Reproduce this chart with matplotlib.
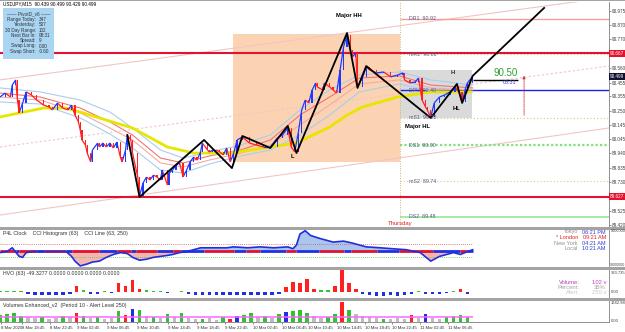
import matplotlib
matplotlib.use("Agg")
import matplotlib.pyplot as plt
import matplotlib.transforms as mtransforms
from matplotlib.collections import LineCollection
from matplotlib.patches import Rectangle

plt.rcParams["font.family"] = ["Liberation Sans", "DejaVu Sans"]
NARROW = ["Liberation Sans Narrow", "Liberation Sans", "DejaVu Sans"]

W, H = 625, 332
CHART_W = 609          # chart area in px, the price scale sits to the right of it
BARS_SHOWN = 349.2     # M15 bars that fit in the chart area

# ---------------- USDJPY M15, values ----------------
bar_idx = [0, 3, 6, 7, 9, 10, 11, 13, 15, 18,
           21, 25, 28, 30, 33, 36, 39, 41, 43, 45,
           46, 47, 49, 50, 52, 53, 56, 57, 59, 61,
           63, 65, 67, 69, 70, 72, 73, 75, 76, 79,
           80, 82, 84, 86, 88, 90, 92, 93, 96, 97,
           99, 101, 103, 105, 107, 109, 111, 113, 115, 116,
           119, 120, 122, 124, 126, 128, 130, 132, 134, 136,
           139, 143, 147, 151, 155, 159, 162, 165, 167, 169,
           171, 173, 175, 177, 179, 181, 182, 185, 186, 189,
           191, 193, 195, 197, 199, 201, 202, 204, 205, 208,
           210, 212, 216, 220, 224, 228, 231, 232, 235, 238,
           240, 242, 244, 245, 247, 249, 252, 255, 258, 261,
           263, 265, 267, 268, 271]
close = [90.350, 90.379, 90.350, 90.437, 90.474, 90.328, 90.234, 90.307, 90.387, 90.365,
         90.328, 90.292, 90.278, 90.256, 90.307, 90.270, 90.256, 90.292, 90.219, 90.169,
         90.110, 90.038, 90.001, 89.943, 89.878, 89.965, 90.016, 89.987, 90.016, 89.987,
         90.016, 89.980, 90.023, 89.914, 89.878, 89.965, 90.074, 90.038, 89.943, 89.769,
         89.631, 89.725, 89.769, 89.747, 89.783, 89.769, 89.747, 89.820, 89.711, 89.798,
         89.820, 89.856, 89.871, 89.769, 89.820, 89.878, 89.914, 89.892, 89.951, 90.016,
         89.965, 89.951, 89.965, 89.965, 89.951, 89.929, 89.980, 89.878, 89.943, 90.038,
         90.060, 90.016, 90.001, 89.987, 89.987, 90.052, 90.074, 90.125, 89.987, 89.951,
         90.089, 90.256, 90.328, 90.307, 90.401, 90.452, 90.423, 90.401, 90.452, 90.423,
         90.401, 90.379, 90.546, 90.714, 90.801, 90.692, 90.641, 90.670, 90.423, 90.496,
         90.568, 90.546, 90.525, 90.532, 90.496, 90.510, 90.525, 90.474, 90.452, 90.459,
         90.488, 90.328, 90.278, 90.256, 90.205, 90.307, 90.350, 90.365, 90.387, 90.423,
         90.387, 90.314, 90.416, 90.452, 90.499]

# moving average ribbon
ma_bar = [0, 23, 46, 63, 76, 92, 105, 120, 138, 155, 172, 189, 206, 229, 247, 271]
ma_blue_up = [90.416, 90.387, 90.328, 90.241, 90.125, 89.965, 89.907, 89.951,
              90.001, 90.074, 90.256, 90.401, 90.510, 90.532, 90.474, 90.437]
ma_red_up = [90.379, 90.350, 90.270, 90.169, 90.074, 89.907, 89.871, 89.922,
             89.965, 90.038, 90.219, 90.350, 90.488, 90.503, 90.437, 90.416]
ma_red_lo = [90.350, 90.328, 90.234, 90.125, 90.038, 89.871, 89.842, 89.892,
             89.943, 90.001, 90.147, 90.292, 90.445, 90.474, 90.416, 90.401]
ma_blue_lo = [90.314, 90.299, 90.198, 90.081, 89.980, 89.820, 89.798, 89.863,
              89.922, 89.965, 90.074, 90.219, 90.387, 90.445, 90.394, 90.387]

yellow_bar = [0, 25, 38, 46, 57, 76, 96, 111, 132, 151, 170, 189, 199, 208, 228, 247, 270]
yellow_ma = [90.205, 90.270, 90.270, 90.241, 90.198, 90.125, 89.987, 89.943, 89.943,
             89.980, 90.016, 90.132, 90.219, 90.278, 90.350, 90.387, 90.387]

# zigzag swing points (last one is the projection)
zz_bar = [73, 80, 117, 133, 139, 155, 165, 170, 199, 205, 210, 247, 262, 265, 271, 312]
zz_price = [90.074, 89.624, 90.038, 89.834, 90.067, 89.980, 90.140, 89.943, 90.815,
            90.416, 90.575, 90.198, 90.445, 90.307, 90.503, 90.997]

# faint channel lines (start/end price across the chart)
chan_bar = [0, BARS_SHOWN]
chan_top = [90.474, 91.074]
chan_mid = [89.987, 90.575]
chan_low = [89.493, 90.125]

sr_levels = [90.667, 89.627]
day_start = 229.4
last_bar = 271
piv_names = ["DR1", "mR1", "DPV", "mS1", "DS1", "mS2", "DS2"]
piv_price = [90.92, 90.66, 90.40, 90.20, 90.00, 89.74, 89.48]
box_week = [133.6, 229.4, 89.878, 90.808]    # bar0, bar1, low, high
box_range = [229.4, 270.6, 90.198, 90.546]
target_price = 90.474

price_ticks = [90.975, 90.870, 90.770, 90.560, 90.455, 90.355, 90.250,
               90.145, 90.045, 89.940, 89.835, 89.730, 89.525, 89.420]
price_flags = [("90.667", "#e3122e"), ("90.499", "#101030"), ("89.627", "#e3122e")]

# ---------------- sub windows ----------------
cci_bar = [0, 4, 7, 11, 13, 15, 19, 30, 38, 41, 43, 46, 50, 53, 57, 61, 65, 69, 73, 76,
           80, 84, 88, 92, 96, 99, 103, 107, 111, 115, 122, 130, 134, 142, 149, 157, 165,
           168, 170, 172, 175, 178, 183, 191, 197, 202, 210, 218, 225, 233, 241, 247, 252,
           260, 264, 268, 271]
cci_val = [-29, -14, 43, -86, -100, -29, -14, -14, -14, -86, -157, -229, -200, -171, -157,
           -100, -57, -29, -43, -100, -143, -129, -100, -86, -71, -57, -29, -14, 14, 43,
           43, 43, 57, 43, 57, 43, 57, 29, 86, 250, 300, 229, 186, 129, 143, 114, 57, 43,
           29, 14, -29, -157, -86, -29, -57, -14, 14]
cci_seg_edges = [0, 9, 11, 21, 25, 38, 41, 57, 67, 75, 78, 90, 99, 104, 117, 134, 141,
                 149, 164, 170, 183, 197, 201, 216, 229, 248, 264, 268, 271]
cci_seg_colors = "rb" * 14

sub_bar = list(range(0, 272, 4))
hvo_val = [20, 15, 25, 15, -30, -45, -50, -45, -50, -45, -40, 110, 30, -35, -30, 15, -20,
           150, 100, 200, 60, 30, 15, 20, -10, 10, 20, -30, -45, -50, -55, -55, -50, -45,
           -50, -55, -55, -50, -45, -45, -40, 80, 170, 150, 230, 60, 30, 40, 100, 370, 160,
           50, -30, -55, -60, -60, -55, -60, -50, -25, 20, -25, -25, -25, -20, 15, 50, -40]
vol_val = [427, 488, 549, 366, 305, 244, 305, 183, 244, 366,
           305, 549, 366, 244, 305, 183, 244, 671, 427, 793,
           732, 366, 305, 244, 488, 305, 549, 244, 183, 183,
           244, 122, 305, 183, 366, 427, 549, 305, 366, 244,
           488, 610, 671, 732, 549, 366, 244, 305, 488, 1220,
           732, 488, 366, 305, 244, 183, 183, 244, 183, 427,
           244, 488, 244, 183, 305, 366, 427, 305]
vol_kind = ("ggggkkgkkg" "krgkgkkgrb" "gkgkgkgkkg" "kkgrbggkgk"
            "gbgggkkggr" "gkkkkgkkkr" "kbkkgggg")
vol_alert = 330

time_ticks = [0.6, 12.9, 28.7, 44.2, 61.4, 78.6, 96.3, 113, 129, 145, 161.7, 176.6,
              193.2, 209.3, 224.8, 240.8, 256.9]
time_labels = ["8 Mar 2020", "8 Mar 18:45", "8 Mar 22:45", "9 Mar 02:45", "9 Mar 06:45",
               "9 Mar 10:45", "9 Mar 14:45", "9 Mar 18:45", "9 Mar 22:45", "10 Mar 02:45",
               "10 Mar 06:45", "10 Mar 10:45", "10 Mar 14:45", "10 Mar 18:45",
               "10 Mar 22:45", "11 Mar 02:45", "11 Mar 06:45"]

BLUE, RED, GREEN = "#2038ff", "#ff2020", "#2fc42f"
KIND_COL = {"g": GREEN, "r": RED, "b": "#2030e0", "k": "#bdbdbd"}

fig = plt.figure(figsize=(W / 100, H / 100), dpi=100)


def panel(top, bottom):
    a = fig.add_axes([0, 1 - bottom / H, CHART_W / W, (bottom - top) / H])
    a.set_xlim(0, BARS_SHOWN)
    a.set_xticks([])
    a.set_yticks([])
    for s in ("left", "top", "bottom"):
        a.spines[s].set_visible(False)
    a.spines["right"].set_color("#7f7f7f")
    a.spines["right"].set_linewidth(0.6)
    return a


def ftext(x, y, s, **kw):
    # text placed in screen pixels of the 625x332 picture
    kw.setdefault("fontsize", 3.8)
    kw.setdefault("va", "center")
    fig.text(x / W, 1 - y / H, s, **kw)


# ---------------- main chart ----------------
ax = panel(2, 227)
ax.set_ylim(89.406, 91.040)

ax.add_patch(Rectangle((box_week[0], box_week[2]), box_week[1] - box_week[0],
                       box_week[3] - box_week[2], fc="#fbd3b3", ec="none", zorder=0))
ax.add_patch(Rectangle((box_range[0], box_range[2]), box_range[1] - box_range[0],
                       box_range[3] - box_range[2], fc="#dadada", ec="none", zorder=0))

ax.plot(chan_bar, chan_top, color="#f2c4c4", lw=0.8, zorder=1)
ax.plot(chan_bar, chan_mid, color="#f2c4c4", lw=0.8, ls=(0, (2, 2)), zorder=1)
ax.plot(chan_bar, chan_low, color="#f2c4c4", lw=0.8, zorder=1)

piv_style = {
    "DR1": dict(color="#f2a097", lw=1.0),
    "mR1": dict(color="#d9c88a", lw=0.8, ls=(0, (1, 2))),
    "DPV": dict(color="#2020e8", lw=1.0),
    "mS1": dict(color="#d9c88a", lw=0.8, ls=(0, (1, 2))),
    "DS1": dict(color="#7fe07f", lw=1.6, ls=(0, (1, 1))),
    "mS2": dict(color="#d9c88a", lw=0.8, ls=(0, (1, 2))),
    "DS2": dict(color="#8ee48e", lw=1.1),
}
for name, p in zip(piv_names, piv_price):
    ax.hlines(p, day_start, BARS_SHOWN, zorder=2, **piv_style[name])
    ax.text(day_start + 5, p, f"{name}  {p:.2f}", fontsize=3.8, color="#5a5a86",
            va="center", zorder=6)

for lvl in sr_levels:
    ax.axhline(lvl, color="#e3122e", lw=1.5, zorder=3)
ax.axvline(day_start, color="#d6b46a", lw=0.7, ls=(0, (1, 1.5)), zorder=2)

ax.plot(ma_bar, ma_blue_up, color="#a9cdf0", lw=0.8, zorder=3)
ax.plot(ma_bar, ma_blue_lo, color="#a9cdf0", lw=0.8, zorder=3)
ax.plot(ma_bar, ma_red_up, color="#f07474", lw=0.8, zorder=3)
ax.plot(ma_bar, ma_red_lo, color="#f5aaa4", lw=0.8, zorder=3)
ax.plot(yellow_bar, yellow_ma, color="#e6e600", lw=2.0, zorder=3, solid_capstyle="round")

# price path: segments coloured by direction, with thin candle bodies
segs = [[(bar_idx[i - 1], close[i - 1]), (bar_idx[i], close[i])] for i in range(1, len(close))]
seg_col = [BLUE if close[i] >= close[i - 1] else RED for i in range(1, len(close))]
ax.add_collection(LineCollection(segs, colors=seg_col, linewidths=0.9, zorder=4))
for i in range(1, len(close)):
    o, c = close[i - 1], close[i]
    ax.bar(bar_idx[i], c - o, bottom=o, width=0.8,
           color=BLUE if c >= o else RED, lw=0, zorder=4)

ax.plot(zz_bar, zz_price, color="black", lw=1.3, zorder=5)
ax.hlines(target_price, last_bar, last_bar + 26, color="black", lw=1.0, zorder=5)
ax.annotate("", xy=(last_bar + 29.5, 90.525), xytext=(last_bar + 29.5, 90.198),
            arrowprops=dict(arrowstyle="-|>", color="#d03030", lw=0.6,
                            ls=(0, (1, 1)), mutation_scale=4), zorder=5)

ax.yaxis.tick_right()
ax.set_yticks(price_ticks)
ax.set_yticklabels([f"{p:.3f}" for p in price_ticks], family=NARROW)
ax.tick_params(axis="y", length=1.2, width=0.4, pad=0.8, labelsize=3.3,
               colors="#404040")
flag_tr = mtransforms.blended_transform_factory(ax.transAxes, ax.transData)
for txt, col in price_flags:
    ax.text(1.002, float(txt), txt, transform=flag_tr, ha="left", va="center",
            fontsize=3.3, family=NARROW, color="white", clip_on=False, zorder=10,
            bbox=dict(boxstyle="square,pad=0.2", fc=col, ec="none"))

# labels on the chart
ftext(3, 4, "USDJPY,M15  90.439 90.499 90.429 90.499", fontsize=3.4)
fig.patches.append(Rectangle((3 / W, 1 - 59 / H), 51 / W, 51 / H, fc="#a9d5f3",
                             ec="none", transform=fig.transFigure, zorder=8))
ftext(29, 14, "—— PivotD_v6 ——", ha="center", color="#3a3a3a", fontsize=3.4, zorder=9)
info_rows = [("Range Today:", "347"), ("Yesterday:", "507"), ("30 Day Range:", "102"),
             ("Next Bar In:", "08:31"), ("Spread:", "9"), ("Swap Long:", "0.00"),
             ("Swap Short:", "-0.60")]
for k, (lab, val) in enumerate(info_rows):
    yy = 19.5 + k * 5.3
    ftext(36, yy, lab, ha="right", color="#303030", fontsize=3.3, zorder=9)
    ftext(39, yy, val, ha="left", color="#303030", fontsize=3.3, zorder=9)

ftext(349, 15, "Major HH", ha="center", fontsize=4.2, fontweight="bold")
ftext(418, 126, "Major HL", ha="center", fontsize=4.2, fontweight="bold")
ftext(453, 72, "H", ha="center", fontsize=4.2, fontweight="bold", color="#303030")
ftext(457, 108, "HL", ha="center", fontsize=4.2, fontweight="bold")
ftext(292, 157, "L", ha="center", fontsize=4.2, fontweight="bold")
ftext(506, 73, "90.50", ha="center", fontsize=7, color="#2f9e2f")
ftext(510, 83, "08:31", ha="center", fontsize=3.8, color="#3a3ad0")
ftext(400, 224, "Thursday", ha="center", fontsize=4.2, color="#e02020")

# ---------------- CCI window ----------------
cci = panel(230, 267)
cci.set_ylim(-245, 310)
cci.fill_between(cci_bar, cci_val, 0, where=[v >= 0 for v in cci_val],
                 interpolate=True, color="#aac6ef", lw=0)
cci.fill_between(cci_bar, cci_val, 0, where=[v <= 0 for v in cci_val],
                 interpolate=True, color="#f6b6b0", lw=0)
cci.axhline(100, color="#e05050", lw=0.6, ls=(0, (1, 1.5)), xmax=last_bar / BARS_SHOWN)
cci.axhline(-100, color="#50c050", lw=0.6, ls=(0, (1, 1.5)), xmax=last_bar / BARS_SHOWN)
for k in range(len(cci_seg_edges) - 1):
    cci.hlines(0, cci_seg_edges[k], cci_seg_edges[k + 1],
               color="#e01030" if cci_seg_colors[k] == "r" else "#2030e0", lw=2.0)
cci.plot(cci_bar, cci_val, color="#1f2fe0", lw=1.2)
ftext(3, 234, "P4L Clock    CCI Histogram (63)    CCI Line (63, 250)", color="#303030")
clock = [("Tokyo", "06:21 PM", "#909090", "#3040d0"),
         ("* London", "09:21 AM", "#e02020", "#e02020"),
         ("New York", "04:21 AM", "#909090", "#3040d0"),
         ("Local", "10:21 AM", "#909090", "#3040d0")]
for k, (city, tm, c1, c2) in enumerate(clock):
    yy = 232 + k * 5.6
    ftext(578, yy, city, ha="right", color=c1, fontsize=4)
    ftext(606, yy, tm, ha="right", color=c2, fontsize=4)
ftext(610.5, 231, "9000000", fontsize=2.8, family=NARROW, color="#404040")
ftext(610, 265.5, "-9000000", fontsize=2.6, family=NARROW, color="#404040")

# ---------------- HVO window ----------------
hvo = panel(270, 298)
hvo.set_ylim(-100, 375)
hvo.bar(sub_bar, hvo_val, width=2.0, lw=0,
        color=["#2030e0" if v < 0 else (RED if v >= 50 else GREEN) for v in hvo_val])
ftext(3, 274, "HVO (63) -49.3277 0.0000 0.0000 0.0000 0.0000", color="#303030")
for k, (lab, val, col) in enumerate([("Volume:", "102 v", "#c040c8"),
                                     ("Percent:", "35%", "#a0a0a0"),
                                     ("Alert:", "250 v", "#c8c8c8")]):
    yy = 282 + k * 5.5
    ftext(580, yy, lab, ha="right", color=col, fontsize=4.2)
    ftext(606, yy, val, ha="right", color=col, fontsize=4.2)
ftext(610.5, 273, "383.735", fontsize=3.0, family=NARROW, color="#404040")
ftext(610.5, 292, "0.00", fontsize=3.0, family=NARROW, color="#404040")

# ---------------- Volumes window ----------------
vol = panel(301, 322)
vol.set_ylim(0, 1300)
vol.bar(sub_bar, vol_val, width=2.0, lw=0, color=[KIND_COL[k] for k in vol_kind])
vol.hlines(vol_alert, 0, last_bar, color="#ff66ff", lw=1.1)
ftext(3, 305, "Volumes Enhanced_v2  (Period 10 - Alert Level 250)", color="#303030")
ftext(610.5, 303, "1342.98", fontsize=3.0, family=NARROW, color="#404040")
ftext(610.5, 321, "0.00", fontsize=3.0, family=NARROW, color="#404040")
vol.spines["bottom"].set_visible(True)
vol.spines["bottom"].set_color("#7f7f7f")
vol.spines["bottom"].set_linewidth(0.6)
vol.set_xticks(time_ticks)
vol.set_xticklabels(time_labels, ha="left", family=NARROW)
vol.tick_params(axis="x", length=1.5, width=0.4, pad=1.2, labelsize=3.1,
                colors="#303030")

# window separators
for top, hgt in [(0, 1.2), (227, 3), (267, 3), (298, 3)]:
    fig.patches.append(Rectangle((0, 1 - (top + hgt) / H), 1, hgt / H,
                                 fc="#a3a3a3", ec="none", transform=fig.transFigure))

fig.savefig("out.png", dpi=100, facecolor="white")
